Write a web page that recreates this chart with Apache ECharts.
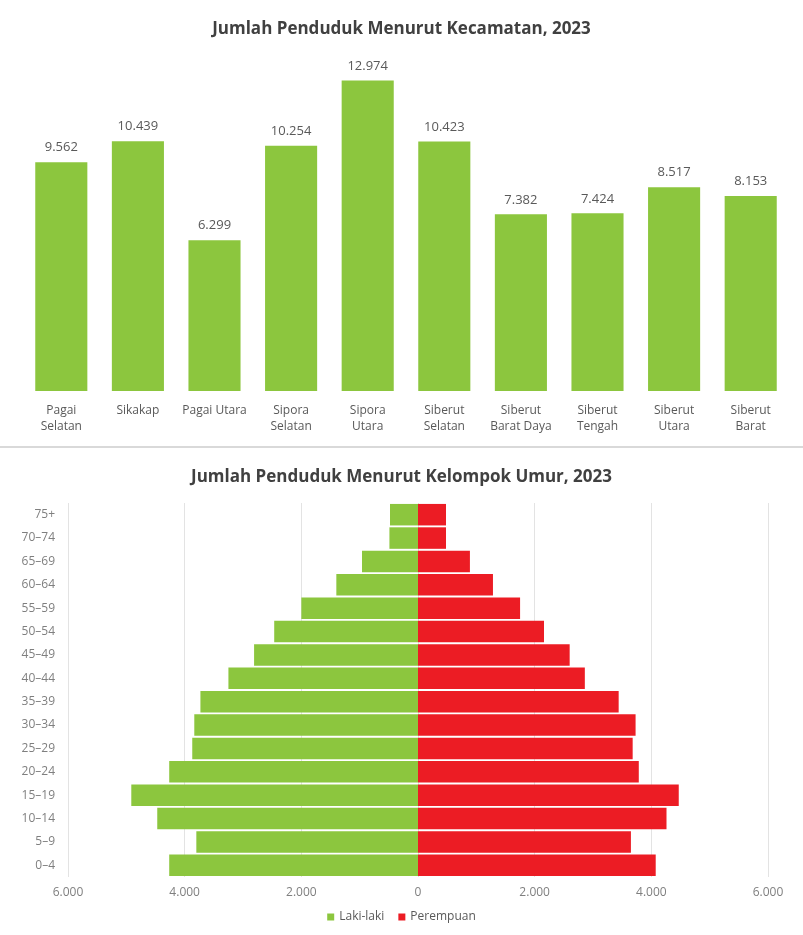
<!DOCTYPE html>
<html>
<head>
<meta charset="utf-8">
<script src="https://cdn.jsdelivr.net/npm/echarts@6/dist/echarts.min.js"></script>
<style>
  html, body { margin: 0; padding: 0; background: #fff; }
  #chart { width: 803px; height: 935px; }
</style>
</head>
<body>
<div id="chart"></div>
<script>
// data - kecamatan
var kecamatan = ['Pagai\nSelatan', 'Sikakap', 'Pagai Utara', 'Sipora\nSelatan', 'Sipora\nUtara',
  'Siberut\nSelatan', 'Siberut\nBarat Daya', 'Siberut\nTengah', 'Siberut\nUtara', 'Siberut\nBarat'];
var penduduk = [9562, 10439, 6299, 10254, 12974, 10423, 7382, 7424, 8517, 8153];

// data - kelompok umur (from bottom to top)
var kelompokUmur = ['0–4', '5–9', '10–14', '15–19', '20–24', '25–29', '30–34', '35–39',
  '40–44', '45–49', '50–54', '55–59', '60–64', '65–69', '70–74', '75+'];
var lakiLaki = [4265, 3800, 4470, 4915, 4265, 3870, 3835, 3730, 3250, 2810, 2465, 2000, 1400, 960, 490, 480];
var perempuan = [4075, 3650, 4260, 4470, 3785, 3680, 3730, 3440, 2860, 2600, 2160, 1750, 1285, 890, 480, 480];

function fmt (v) {
  return String(Math.abs(v)).replace(/\B(?=(\d{3})+(?!\d))/g, '.');
}

var chartDom = document.getElementById('chart');
var myChart = echarts.init(chartDom);
var option;

var hijau = '#8cc63e';
var merah = '#ec1c24';
var fontFam = '"Open Sans", sans-serif';

option = {
  textStyle: { fontFamily: fontFam },
  title: [
    {
      text: 'Jumlah Penduduk Menurut Kecamatan, 2023',
      left: 'center',
      top: 16,
      textStyle: { fontSize: 17, fontWeight: 'bold', color: '#404040', fontFamily: fontFam }
    },
    {
      text: 'Jumlah Penduduk Menurut Kelompok Umur, 2023',
      left: 'center',
      top: 464,
      textStyle: { fontSize: 17, fontWeight: 'bold', color: '#404040', fontFamily: fontFam }
    }
  ],
  legend: {
    data: ['Laki-laki', 'Perempuan'],
    bottom: 7,
    left: 'center',
    icon: 'rect',
    itemWidth: 7,
    itemHeight: 7,
    itemGap: 14,
    textStyle: { fontSize: 12, color: '#595959' }
  },
  graphic: [
    {
      type: 'rect',
      shape: { x: 0, y: 446, width: 803, height: 2 },
      style: { fill: '#d9d9d9' }
    }
  ],
  grid: [
    { left: 23, right: 14, top: 56, bottom: 544 },
    { left: 68, right: 35, top: 503, bottom: 58 }
  ],
  xAxis: [
    {
      type: 'category',
      gridIndex: 0,
      data: kecamatan,
      axisLine: { show: false },
      axisTick: { show: false },
      axisLabel: { fontSize: 12, color: '#595959', lineHeight: 16, margin: 12, interval: 0 }
    },
    {
      type: 'value',
      gridIndex: 1,
      min: -6000,
      max: 6000,
      interval: 2000,
      axisLine: { show: false },
      axisTick: { show: false },
      axisLabel: { fontSize: 12, color: '#7f7f7f', margin: 10, formatter: fmt },
      splitLine: { lineStyle: { color: '#e3e3e3' } }
    }
  ],
  yAxis: [
    {
      type: 'value',
      gridIndex: 0,
      min: 0,
      max: 14000,
      show: false
    },
    {
      type: 'category',
      gridIndex: 1,
      data: kelompokUmur,
      axisLine: { show: false },
      axisTick: { show: false },
      axisLabel: { fontSize: 12, color: '#7f7f7f', margin: 13 }
    }
  ],
  series: [
    {
      name: 'Penduduk',
      type: 'bar',
      xAxisIndex: 0,
      yAxisIndex: 0,
      data: penduduk,
      barWidth: '68%',
      itemStyle: { color: hijau },
      label: {
        show: true,
        position: 'top',
        distance: 8,
        fontSize: 13,
        color: '#595959',
        formatter: function (p) { return fmt(p.value); }
      }
    },
    {
      name: 'Laki-laki',
      type: 'bar',
      xAxisIndex: 1,
      yAxisIndex: 1,
      stack: 'umur',
      barCategoryGap: '8%',
      data: lakiLaki.map(function (v) { return -v; }),
      itemStyle: { color: hijau }
    },
    {
      name: 'Perempuan',
      type: 'bar',
      xAxisIndex: 1,
      yAxisIndex: 1,
      stack: 'umur',
      barCategoryGap: '8%',
      data: perempuan,
      itemStyle: { color: merah }
    }
  ]
};

option && myChart.setOption(option);
</script>
</body>
</html>
